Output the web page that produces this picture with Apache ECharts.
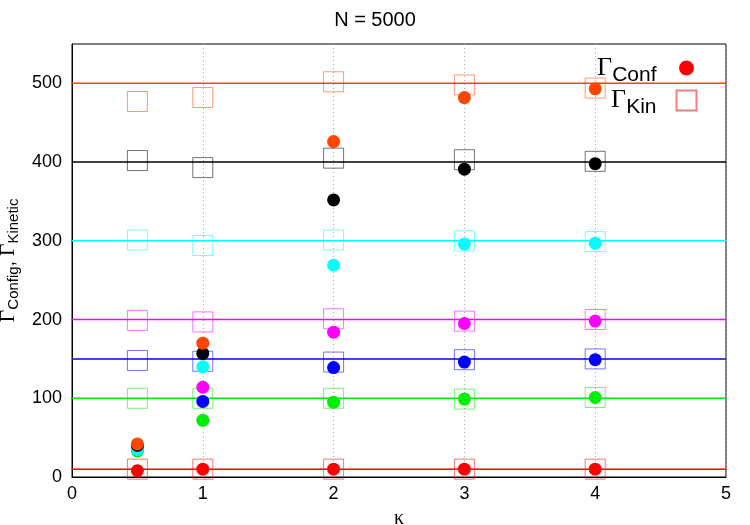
<!DOCTYPE html>
<html>
<head>
<meta charset="utf-8">
<script src="https://cdn.jsdelivr.net/npm/echarts@6/dist/echarts.min.js"></script>
<style>
  html, body { margin: 0; padding: 0; background: #fff; }
  #chart { width: 750px; height: 525px; }
</style>
</head>
<body>
<div id="chart"></div>
<script>
// kappa values where both Gammas were measured
const kappa = [0.5, 1, 2, 3, 4];
// target Gamma for each run (the horizontal reference lines)
const levels = [10, 100, 150, 200, 300, 400, 500];
const levelColors = ['#ff0000', '#00ee00', '#0000ff', '#ff00ff', '#00ffff', '#000000', '#ff4500'];

// Gamma_Conf (filled circles), one array per target level
const conf10 = [8, 10, 10, 10, 10];
const conf100 = [33, 72, 95, 99, 101];
const conf150 = [36, 96, 139, 146, 149];
const conf200 = [38, 114, 184, 195, 198];
const conf300 = [35, 140, 269, 296, 297];
const conf400 = [40, 157, 352, 391, 398];
const conf500 = [42, 170, 426, 482, 493];

// Gamma_Kin (open squares)
const kin10 = [10, 10, 10, 10, 10];
const kin100 = [100, 100, 100, 99, 101];
const kin150 = [148, 147, 146, 149, 150];
const kin200 = [199, 197, 201, 198, 200];
const kin300 = [301, 294, 301, 300, 299];
const kin400 = [402, 393, 405, 403, 401];
const kin500 = [477, 482, 502, 498, 494];

const xTicks = [0, 1, 2, 3, 4, 5];
const yTicks = [0, 100, 200, 300, 400, 500];

const confAll = [conf10, conf100, conf150, conf200, conf300, conf400, conf500];
const kinAll = [kin10, kin100, kin150, kin200, kin300, kin400, kin500];

const chart = echarts.init(document.getElementById('chart'));

const series = [];
// horizontal reference lines
levels.forEach((lv, i) => {
  series.push({
    type: 'line',
    data: [[xTicks[0], lv], [xTicks[xTicks.length - 1], lv]],
    symbol: 'none',
    lineStyle: { color: levelColors[i], width: 1.5 },
    silent: true,
    z: 1
  });
});
// squares (kinetic)
kinAll.forEach((arr, i) => {
  series.push({
    type: 'scatter',
    data: kappa.map((k, j) => [k, arr[j]]),
    symbol: 'rect',
    symbolSize: 20,
    itemStyle: { color: 'transparent', borderColor: levelColors[i], borderWidth: 1, opacity: 0.55 },
    z: 2
  });
});
// circles (configurational)
confAll.forEach((arr, i) => {
  series.push({
    type: 'scatter',
    data: kappa.map((k, j) => [k, arr[j]]),
    symbol: 'circle',
    symbolSize: 13,
    itemStyle: { color: levelColors[i], opacity: 1 },
    z: 3
  });
});
// legend-only series
series.push({
  name: 'conf', type: 'scatter', data: [], symbol: 'circle',
  itemStyle: { color: '#ff0000', opacity: 1 }
});
series.push({
  name: 'kin', type: 'scatter', data: [], symbol: 'rect',
  itemStyle: { color: '#fff', borderColor: '#f08080', borderWidth: 1.2, opacity: 1 }
});

const gRich = {
  g: { fontFamily: 'Liberation Serif', fontSize: 26, color: '#000' },
  s: { fontFamily: 'Liberation Sans', fontSize: 21, color: '#000', padding: [14, 0, 0, 0] }
};

const option = {
  animation: false,
  backgroundColor: '#fff',
  title: {
    text: 'N = 5000',
    left: 'center',
    top: 5,
    textStyle: { fontFamily: 'Liberation Sans', fontSize: 20, fontWeight: 'normal', color: '#000' }
  },
  legend: {
    data: [
      { name: 'conf', icon: 'circle', itemStyle: { color: '#ff0000', borderColor: '#fff', borderWidth: 5 } },
      { name: 'kin', icon: 'rect' }
    ],
    orient: 'vertical',
    right: 46,
    top: 50,
    align: 'right',
    itemGap: 2,
    itemWidth: 20,
    itemHeight: 20,
    selectedMode: false,
    formatter: function (name) {
      return name === 'conf' ? '{g|Γ}{s|Conf}' : '{g|Γ}{s|Kin}';
    },
    textStyle: { rich: gRich, padding: [0, 15, 0, 0] }
  },
  grid: {
    left: 72, right: 24, top: 44, bottom: 48,
    containLabel: false,
    outerBoundsMode: 'none',
    show: true, borderColor: '#000', borderWidth: 1
  },
  xAxis: {
    type: 'value',
    min: 0, max: 5, interval: 1,
    name: 'κ',
    nameLocation: 'middle',
    nameGap: 32,
    nameTextStyle: { fontFamily: 'Liberation Serif', fontSize: 20, color: '#000' },
    axisLine: { show: true, lineStyle: { color: '#000' } },
    axisTick: { show: false },
    axisLabel: { fontFamily: 'Liberation Sans', fontSize: 18, color: '#000', margin: 8 },
    splitLine: { show: true, lineStyle: { color: '#aaa', type: [1, 3], width: 1 } }
  },
  yAxis: {
    type: 'value',
    min: 0, max: 550, interval: 100,
    name: '{g|Γ}{s|Config}{c|, }{g|Γ}{s|Kinetic}',
    nameLocation: 'middle',
    nameRotate: 90,
    nameGap: 46,
    nameTextStyle: {
      rich: {
        g: { fontFamily: 'Liberation Serif', fontSize: 22, color: '#000' },
        s: { fontFamily: 'Liberation Sans', fontSize: 15, color: '#000', padding: [10, 0, 0, 0] },
        c: { fontFamily: 'Liberation Sans', fontSize: 18, color: '#000' }
      }
    },
    axisLine: { show: true, lineStyle: { color: '#000' } },
    axisTick: { show: false },
    axisLabel: { fontFamily: 'Liberation Sans', fontSize: 18, color: '#000', margin: 10, showMaxLabel: false },
    splitLine: { show: false }
  },
  series: series
};

chart.setOption(option);
</script>
</body>
</html>
